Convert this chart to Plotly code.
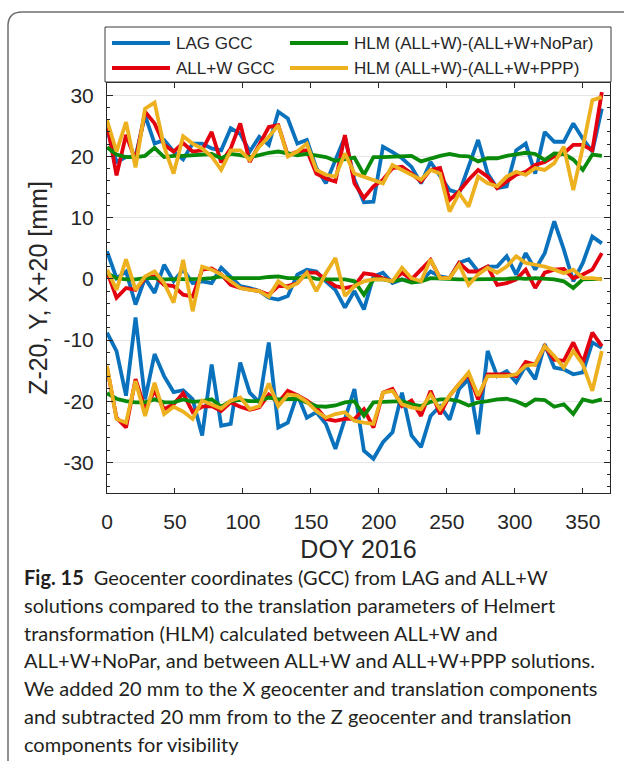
import plotly.graph_objects as go

# Day of year of each weekly solution
doy = [0, 7, 14, 21, 28, 35, 42, 49, 56, 63, 70, 77, 84, 91, 98, 105, 112, 119,
       126, 133, 140, 147, 154, 161, 168, 175, 182, 189, 196, 203, 210, 217, 224,
       231, 238, 245, 252, 259, 266, 273, 280, 287, 294, 301, 308, 315, 322, 329,
       336, 343, 350, 357, 364]

# LAG geocenter coordinates [mm] (X shifted +20, Z shifted -20)
lag_x = [24.5, 19.1, 19.9, 20.0, 26.7, 22.1, 22.7, 20.8, 19.5, 22.1, 22.1, 21.3, 21.0,
         24.6, 23.7, 20.8, 23.2, 21.9, 27.3, 26.2, 22.1, 22.7, 18.1, 15.6, 19.4, 23.2,
         16.2, 12.5, 12.6, 21.6, 20.7, 19.7, 18.3, 15.6, 19.1, 16.7, 14.5, 14.0, 18.3,
         22.7, 17.2, 14.8, 15.1, 21.0, 22.1, 17.2, 24.0, 22.4, 22.4, 25.4, 22.9, 20.8, 27.8]
lag_y = [4.5, 0.1, 1.2, -4.2, 0.1, -2.3, 2.3, -0.4, 1.5, -0.7, -0.4, -0.7, 1.8,
         0.4, -1.2, -1.5, -2.0, -3.1, -3.4, -2.8, 0.7, 1.5, 1.2, -0.4, -1.8, -4.7,
         -2.0, -5.0, 0.4, 1.0, -0.7, -0.1, -0.4, -0.4, 1.2, 0.4, 0.1, 2.6, 3.2,
         1.2, 2.0, 2.0, 3.7, 0.7, 4.2, 1.5, 4.2, 9.4, 4.8, -0.4, 2.6, 6.9, 5.8]
lag_z = [-8.8, -11.8, -19.1, -6.3, -19.7, -12.3, -15.9, -18.5, -18.2, -19.7, -25.6, -14.0, -24.0,
         -23.7, -13.7, -18.6, -20.2, -10.4, -24.3, -23.5, -18.9, -22.7, -21.8, -23.7, -27.8, -23.0,
         -18.0, -28.1, -29.4, -26.7, -25.1, -18.6, -25.6, -27.5, -22.4, -20.8, -23.0, -18.0, -16.4,
         -25.4, -11.8, -15.9, -15.1, -16.9, -14.2, -16.4, -10.7, -14.5, -14.8, -15.6, -15.3, -10.4, -11.3]

# ALL+W geocenter coordinates [mm]
allw_x = [25.4, 16.9, 23.5, 19.4, 27.3, 25.4, 21.9, 20.8, 22.2, 20.8, 21.0, 24.0, 19.0,
          21.3, 25.4, 19.1, 21.9, 24.8, 25.1, 20.2, 20.8, 21.0, 17.2, 16.4, 15.9, 23.5,
          15.6, 13.2, 15.1, 16.2, 18.1, 18.3, 17.2, 15.9, 17.8, 18.1, 12.9, 14.3, 16.2,
          17.8, 16.7, 14.8, 15.9, 17.0, 17.5, 18.6, 19.1, 20.0, 20.5, 21.9, 21.9, 21.0, 30.5]
allw_y = [1.2, -3.1, -1.5, -1.8, 0.1, 0.4, -1.0, -1.2, -2.6, -2.9, 1.5, 1.7, 0.7,
          -1.0, -1.5, -1.8, -2.0, -2.6, -1.2, -1.2, -0.7, 1.0, 1.0, -0.1, -1.2, -1.5,
          -1.2, 0.9, 0.7, 0.1, -0.4, 1.0, -0.1, 1.5, 3.1, 0.1, 0.1, 2.6, 1.2,
          1.2, 2.0, -1.0, -0.7, -0.1, 1.5, -1.5, 1.0, 1.5, 1.6, 0.1, 0.7, 1.5, 4.2]
allw_z = [-14.5, -22.7, -24.3, -16.4, -21.3, -18.3, -21.3, -20.5, -18.7, -21.8, -20.9, -20.8, -21.6,
          -20.2, -20.9, -21.4, -21.0, -18.9, -20.2, -18.3, -19.0, -19.9, -21.0, -22.9, -23.2, -22.9,
          -22.9, -21.3, -24.3, -18.6, -18.0, -20.8, -19.9, -22.4, -18.3, -22.1, -19.1, -17.2, -15.6,
          -19.7, -15.6, -15.6, -15.6, -15.9, -13.6, -14.0, -11.0, -13.2, -13.4, -10.4, -13.7, -8.8, -11.0]

# HLM translations (ALL+W)-(ALL+W+NoPar) [mm]
nopar_x = [21.5, 20.3, 19.9, 19.9, 20.1, 21.4, 19.9, 20.1, 20.1, 20.2, 20.2, 20.4, 19.7,
           20.4, 20.2, 19.9, 20.2, 20.6, 20.8, 20.5, 20.2, 20.4, 20.2, 19.9, 19.3, 19.5,
           19.8, 17.0, 19.9, 19.9, 20.0, 20.1, 20.1, 19.2, 19.7, 20.1, 20.4, 20.1, 20.0,
           19.2, 19.7, 19.7, 20.1, 20.4, 20.6, 20.4, 19.4, 20.5, 20.4, 19.5, 17.8, 20.3, 20.1]
nopar_y = [0.9, 0.1, -0.1, -0.1, 0.1, 0.1, -0.1, -0.1, -0.1, -0.1, 0.0, 0.1, 0.4,
           0.1, 0.1, 0.1, 0.1, 0.3, 0.4, 0.1, 0.1, 0.4, 0.0, -0.1, -0.1, -0.1,
           -0.4, -2.6, -0.1, -0.1, -0.4, -0.1, -0.6, -0.4, 0.1, 0.0, -0.1, -0.1, -0.1,
           -0.1, -0.1, -0.1, 0.0, 0.1, 0.0, 0.1, 0.0, -0.1, -0.4, -1.5, -0.1, -0.1, 0.0]
nopar_z = [-18.7, -19.6, -20.0, -20.2, -20.2, -19.7, -20.2, -20.2, -19.7, -20.1, -20.0, -19.7, -20.9,
           -20.0, -19.8, -20.0, -20.0, -19.4, -19.7, -19.7, -19.6, -20.2, -20.8, -20.9, -20.7, -20.2,
           -20.0, -22.4, -20.2, -20.1, -20.0, -20.0, -20.5, -20.8, -20.1, -19.7, -19.7, -20.0, -20.7,
           -20.2, -20.0, -19.7, -19.6, -20.0, -20.7, -19.7, -19.8, -20.9, -20.5, -22.1, -19.7, -20.1, -19.7]

# HLM translations (ALL+W)-(ALL+W+PPP) [mm]
ppp_x = [25.9, 20.8, 25.6, 18.2, 27.8, 28.8, 21.6, 17.2, 23.3, 22.1, 21.3, 20.0, 17.8,
         21.0, 21.0, 19.4, 21.6, 23.2, 25.1, 20.0, 20.8, 22.1, 17.8, 17.0, 16.7, 20.5,
         17.2, 16.7, 16.2, 15.6, 18.6, 17.8, 17.0, 16.2, 17.8, 17.2, 11.0, 14.0, 11.8,
         16.7, 15.6, 15.1, 16.7, 17.5, 17.0, 18.1, 17.8, 18.9, 21.6, 14.5, 21.5, 29.2, 29.7]
ppp_y = [1.5, -1.8, 3.2, -1.8, 0.4, 1.2, -0.7, -3.9, 3.1, -5.3, 2.0, 1.5, 0.7,
         -0.4, -1.5, -1.8, -2.0, -2.9, -0.4, -1.5, -0.7, 1.0, -2.0, 0.9, 3.4, -2.8,
         -1.2, -0.4, -0.1, -0.1, -0.4, 1.8, 0.1, -0.4, 3.2, 0.1, 0.1, 2.3, -1.0,
         0.7, 1.8, 1.0, 2.0, 3.7, 2.6, 2.3, 2.0, 1.5, 0.9, 1.5, 0.1, 0.1, -0.1]
ppp_z = [-14.2, -22.9, -23.5, -16.7, -22.4, -17.0, -22.1, -20.9, -21.7, -22.9, -19.9, -20.5, -21.2,
         -19.9, -19.4, -21.3, -20.8, -17.1, -20.8, -18.9, -19.1, -20.1, -21.6, -22.7, -22.1, -21.8,
         -23.2, -23.5, -23.7, -18.6, -18.3, -20.5, -21.0, -21.3, -18.9, -21.3, -19.1, -17.2, -15.3,
         -19.1, -15.9, -15.9, -15.9, -15.6, -14.2, -14.0, -11.0, -12.6, -14.5, -11.8, -14.0, -18.3, -11.8]

series_names = ["LAG GCC", "ALL+W GCC", "HLM (ALL+W)-(ALL+W+NoPar)", "HLM (ALL+W)-(ALL+W+PPP)"]
series_colors = ["#0a72bd", "#e3000f", "#0a8a0a", "#edb120"]
series_data = [
    (lag_x, lag_y, lag_z),
    (allw_x, allw_y, allw_z),
    (nopar_x, nopar_y, nopar_z),
    (ppp_x, ppp_y, ppp_z),
]

y_ticks = [-30, -20, -10, 0, 10, 20, 30]
y_ticktext = ["-30", "-20", "-10", "0", "10", "20", "30"]
x_ticks = [0, 50, 100, 150, 200, 250, 300, 350]

caption_lines = [
    "<b>Fig. 15</b>\u2002Geocenter coordinates (GCC) from LAG and ALL+W",
    "solutions compared to the translation parameters of Helmert",
    "transformation (HLM) calculated between ALL+W and",
    "ALL+W+NoPar, and between ALL+W and ALL+W+PPP solutions.",
    "We added 20 mm to the X geocenter and translation components",
    "and subtracted 20 mm from to the Z geocenter and translation",
    "components for visibility",
]

FONT = "Liberation Sans, Arial, Helvetica, sans-serif"
CAP_FONT = "Lato, Open Sans, sans-serif"
AX = "#262626"

# plot-area geometry in pixels
FIG_W, FIG_H = 624, 761
L, T, R, B = 107, 83, 14, 268
W = FIG_W - L - R
H = FIG_H - T - B


def px(x):
    return (x - L) / W


def py(y):
    return (T + H - y) / H


fig = go.Figure()
for name, color, comps in zip(series_names, series_colors, series_data):
    for vals in comps:
        fig.add_trace(go.Scatter(
            x=doy, y=vals, mode="lines", name=name, showlegend=False,
            line=dict(color=color, width=3.8),
        ))

shapes = []
annotations = []

# outer figure frame with rounded top-left corner
shapes.append(dict(
    type="path", xref="paper", yref="paper",
    path=(f"M {px(640)},{py(12)} L {px(22)},{py(12)} "
          f"Q {px(8)},{py(12)} {px(8)},{py(26)} L {px(8)},{py(780)}"),
    line=dict(color="#6e6e6e", width=1.5),
))

# legend box above the axes
shapes.append(dict(type="rect", xref="paper", yref="paper",
                   x0=px(105), x1=px(611), y0=py(82), y1=py(27),
                   line=dict(color="#3a3a3a", width=1), fillcolor="white"))
legend_pos = [(112, 43), (112, 68), (290, 43), (290, 68)]
for (lx, ly), name, color in zip(legend_pos, series_names, series_colors):
    shapes.append(dict(type="line", xref="paper", yref="paper",
                       x0=px(lx), x1=px(lx + 58), y0=py(ly), y1=py(ly),
                       line=dict(color=color, width=3.8)))
    annotations.append(dict(xref="paper", yref="paper", x=px(lx + 62), y=py(ly + 1),
                            xanchor="left", yanchor="middle", showarrow=False,
                            text=name, font=dict(family=FONT, size=17, color=AX)))

# caption
for i, line in enumerate(caption_lines):
    annotations.append(dict(xref="paper", yref="paper", x=px(22), y=py(577 + 27.8 * i),
                            xanchor="left", yanchor="middle", showarrow=False,
                            text=line, font=dict(family=CAP_FONT, size=20, color="#231f20")))

fig.update_layout(
    width=FIG_W, height=FIG_H,
    margin=dict(l=L, r=R, t=T, b=B, pad=0),
    paper_bgcolor="white", plot_bgcolor="white",
    showlegend=False,
    shapes=shapes, annotations=annotations,
    font=dict(family=FONT, color=AX),
)
fig.update_xaxes(
    range=[0, 370], tickmode="array", tickvals=x_ticks,
    ticks="inside", ticklen=5, tickcolor=AX, tickwidth=1,
    showline=True, linecolor=AX, linewidth=1, mirror="ticks",
    showgrid=False, zeroline=False,
    tickfont=dict(family=FONT, size=21, color=AX), ticklabelstandoff=10,
    title=dict(text="DOY 2016", font=dict(family=FONT, size=25, color=AX), standoff=8),
)
fig.update_yaxes(
    range=[-35, 32], tickmode="array", tickvals=y_ticks, ticktext=y_ticktext,
    ticks="inside", ticklen=6, tickcolor=AX, tickwidth=1,
    minor=dict(tickmode="linear", tick0=0, dtick=2, ticks="inside", ticklen=3,
               tickcolor=AX, showgrid=False),
    showline=True, linecolor=AX, linewidth=1, mirror="ticks",
    showgrid=True, gridcolor="#e6e6e6", gridwidth=1, zeroline=False,
    tickfont=dict(family=FONT, size=21, color=AX), ticklabelstandoff=8,
    title=dict(text="Z-20, Y, X+20 [mm]", font=dict(family=FONT, size=25, color=AX), standoff=8),
)

fig.write_html("out.html", config={"displayModeBar": False})
